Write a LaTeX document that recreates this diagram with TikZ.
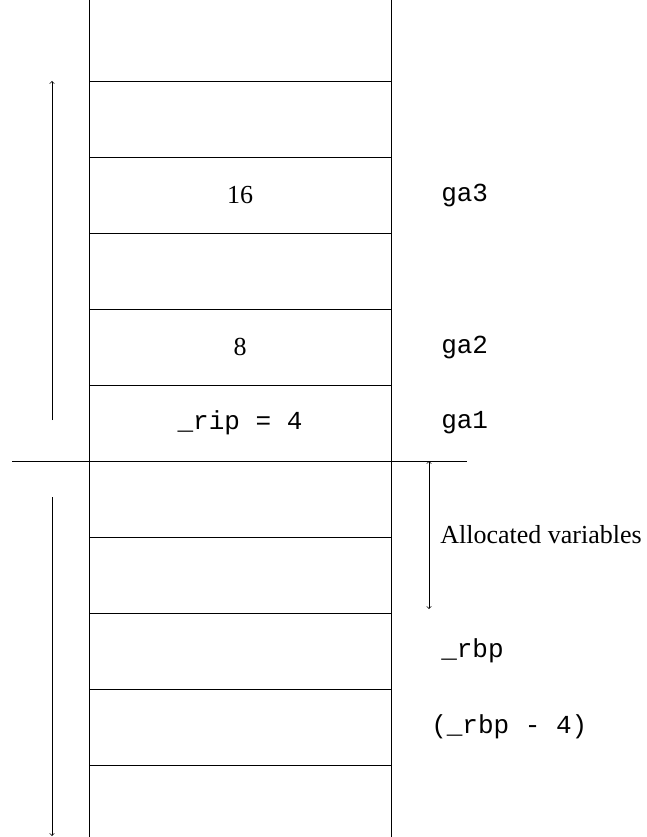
\documentclass[tikz,border=0pt]{standalone}
\usepackage{fontspec}
\setmainfont{Liberation Serif}
\setmonofont{Liberation Mono}
\begin{document}
\begin{tikzpicture}[
        x=0.75pt, y=-0.75pt,
        stackline/.style={line width=0.6pt},
        span/.style={line width=0.5pt, ->},
        cell/.style={font=\fontsize{19.5}{23}\selectfont, inner sep=0pt},
        note/.style={font=\fontsize{19.5}{23}\selectfont, inner sep=0pt, anchor=west}
    ]
        \useasboundingbox (0,0) rectangle (646,837);

        % --- スタックの枠 ---
        \draw[stackline] (89,0) -- (89,837);
        \draw[stackline] (391,0) -- (391,837);
        \foreach \y in {81,157,233,309,385,537,613,689,765} {
            \draw[stackline] (89,\y) -- (391,\y);
        }
        % フレームの境界線
        \draw[stackline] (12,461) -- (467,461);

        % --- セルの中身 ---
        \node[cell] (v16) at (240,195) {16};
        \node[cell] (v8) at (240,347) {8};
        \node[cell] (rip) at (240,423) {\texttt{\_rip = 4}};

        % --- 右側のラベル ---
        \node[note] (ga3) at (441,195) {\texttt{ga3}};
        \node[note] (ga2) at (441,347) {\texttt{ga2}};
        \node[note] (ga1) at (441,423) {\texttt{ga1}};
        \node[note] (alloc) at (440,535) {Allocated variables};
        \node[note] (rbp) at (441,651) {\texttt{\_rbp}};
        \node[note] (rbpm) at (431,727) {\texttt{(\_rbp - 4)}};

        % --- 矢印 ---
        \coordinate (uptop) at (52,81);
        \coordinate (upbot) at (52,420);
        \coordinate (lowtop) at (52,497);
        \coordinate (lowbot) at (52,836);
        \coordinate (alloctop) at (429,461);
        \coordinate (allocbot) at (429,609);
        \draw[span] (upbot) -- (uptop);
        \draw[span] (lowtop) -- (lowbot);
        \draw[span, <->] (alloctop) -- (allocbot);

    \end{tikzpicture}
\end{document}
